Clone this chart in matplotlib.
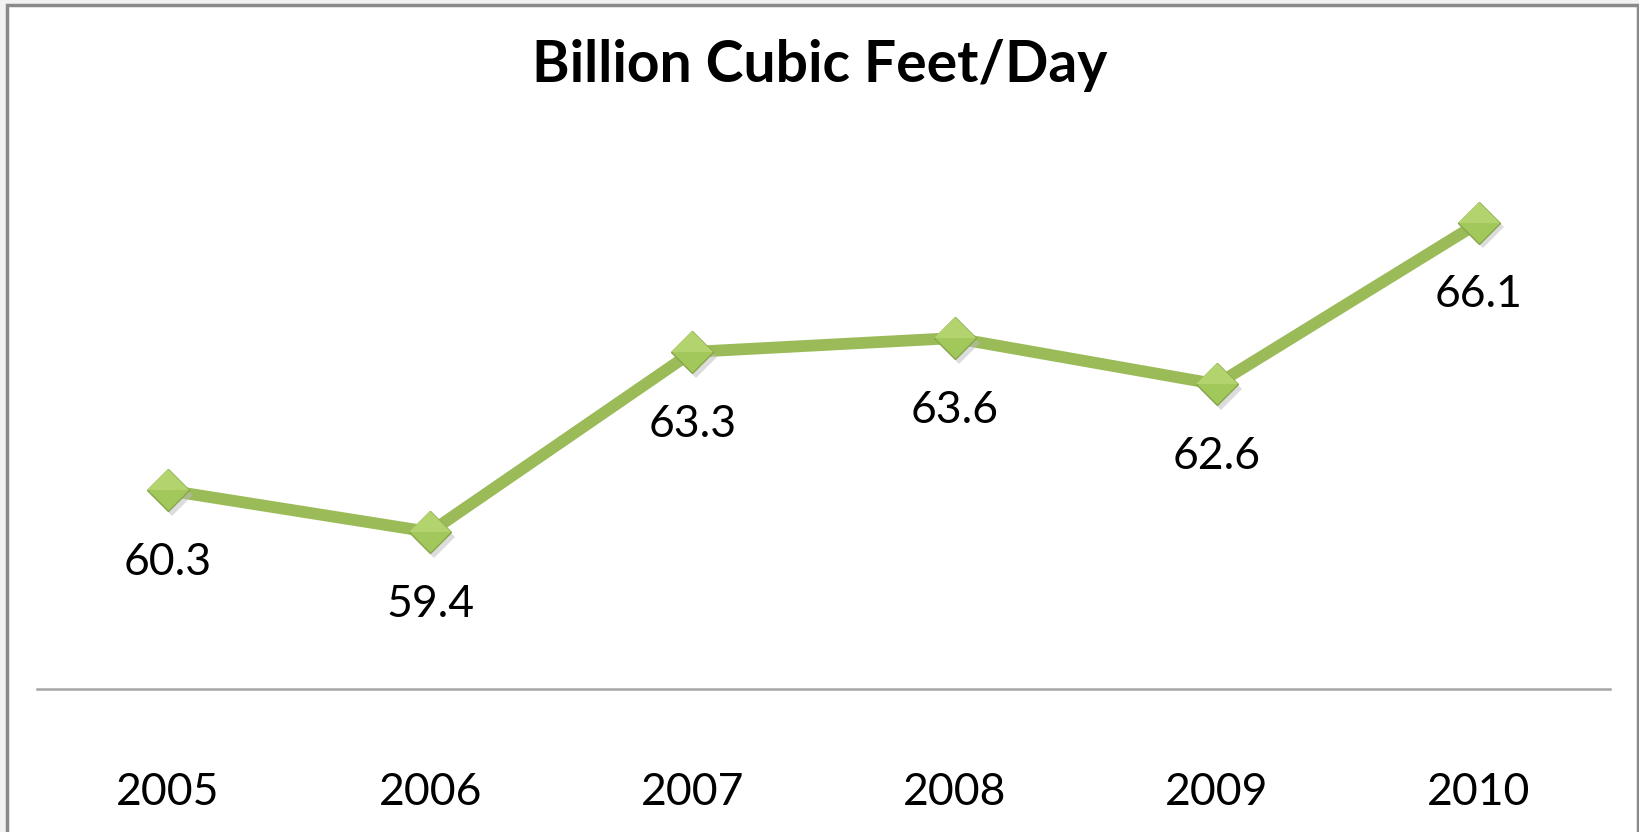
import matplotlib
matplotlib.use("Agg")
import matplotlib.pyplot as plt
from matplotlib.patches import Rectangle

years = ["2005", "2006", "2007", "2008", "2009", "2010"]
values = [60.3, 59.4, 63.3, 63.6, 62.6, 66.1]
title = "Billion Cubic Feet/Day"

plt.rcParams["font.family"] = ["Lato", "DejaVu Sans"]

fig = plt.figure(figsize=(16.4, 8.32), dpi=100)
fig.patch.set_facecolor("#f2f2f2")

# chart frame, kept behind the axes
frame = Rectangle((7 / 1640, -0.05), (1638 - 7) / 1640, 1.05 - 5 / 832,
                  transform=fig.transFigure, facecolor="white",
                  edgecolor="#8a8a8a", linewidth=2.5, zorder=-10)
fig.patches.append(frame)

ax = fig.add_axes([37 / 1640, 143 / 832, (1610 - 37) / 1640, 0.666])
ax.set_facecolor("none")
x = list(range(len(years)))

ax.plot(x, values, color="#9bbb59", linewidth=8.5, solid_capstyle="butt", zorder=2)
# soft shadow under markers
ax.plot([i + 0.015 for i in x], [v - 0.1 for v in values], linestyle="none",
        marker="D", markersize=21, color="#bbbbbb", alpha=0.5,
        markeredgewidth=0, zorder=2.5)
ax.plot(x, values, linestyle="none", marker="D", markersize=21,
        markerfacecolor="#a2c85c", markeredgecolor="#86a64a",
        markeredgewidth=1.0, zorder=3)
# lighter upper half for a bit of gloss
ax.plot(x, values, linestyle="none", marker="D", markersize=21,
        fillstyle="top", markerfacecolor="#b2d36e", markerfacecoloralt="none",
        markeredgewidth=0, zorder=3.5)

for i, v in enumerate(values):
    ax.annotate(f"{v:.1f}", (i, v), xytext=(0, -52), textcoords="offset points",
                ha="center", va="center", fontsize=32, color="black")

ax.set_xlim(-0.5, len(years) - 0.5)
ax.set_ylim(56, 68)
ax.set_xticks(x)
ax.set_xticklabels(years, fontsize=32)
ax.tick_params(axis="x", length=0, pad=60)
ax.set_yticks([])
for s in ["top", "right", "left"]:
    ax.spines[s].set_visible(False)
ax.spines["bottom"].set_color("#a6a6a6")
ax.spines["bottom"].set_linewidth(1.8)

fig.text(0.5, 1 - 66 / 832, title, ha="center", va="center",
         fontsize=41, fontweight="bold")

fig.savefig("out.png", dpi=100, facecolor=fig.get_facecolor())
